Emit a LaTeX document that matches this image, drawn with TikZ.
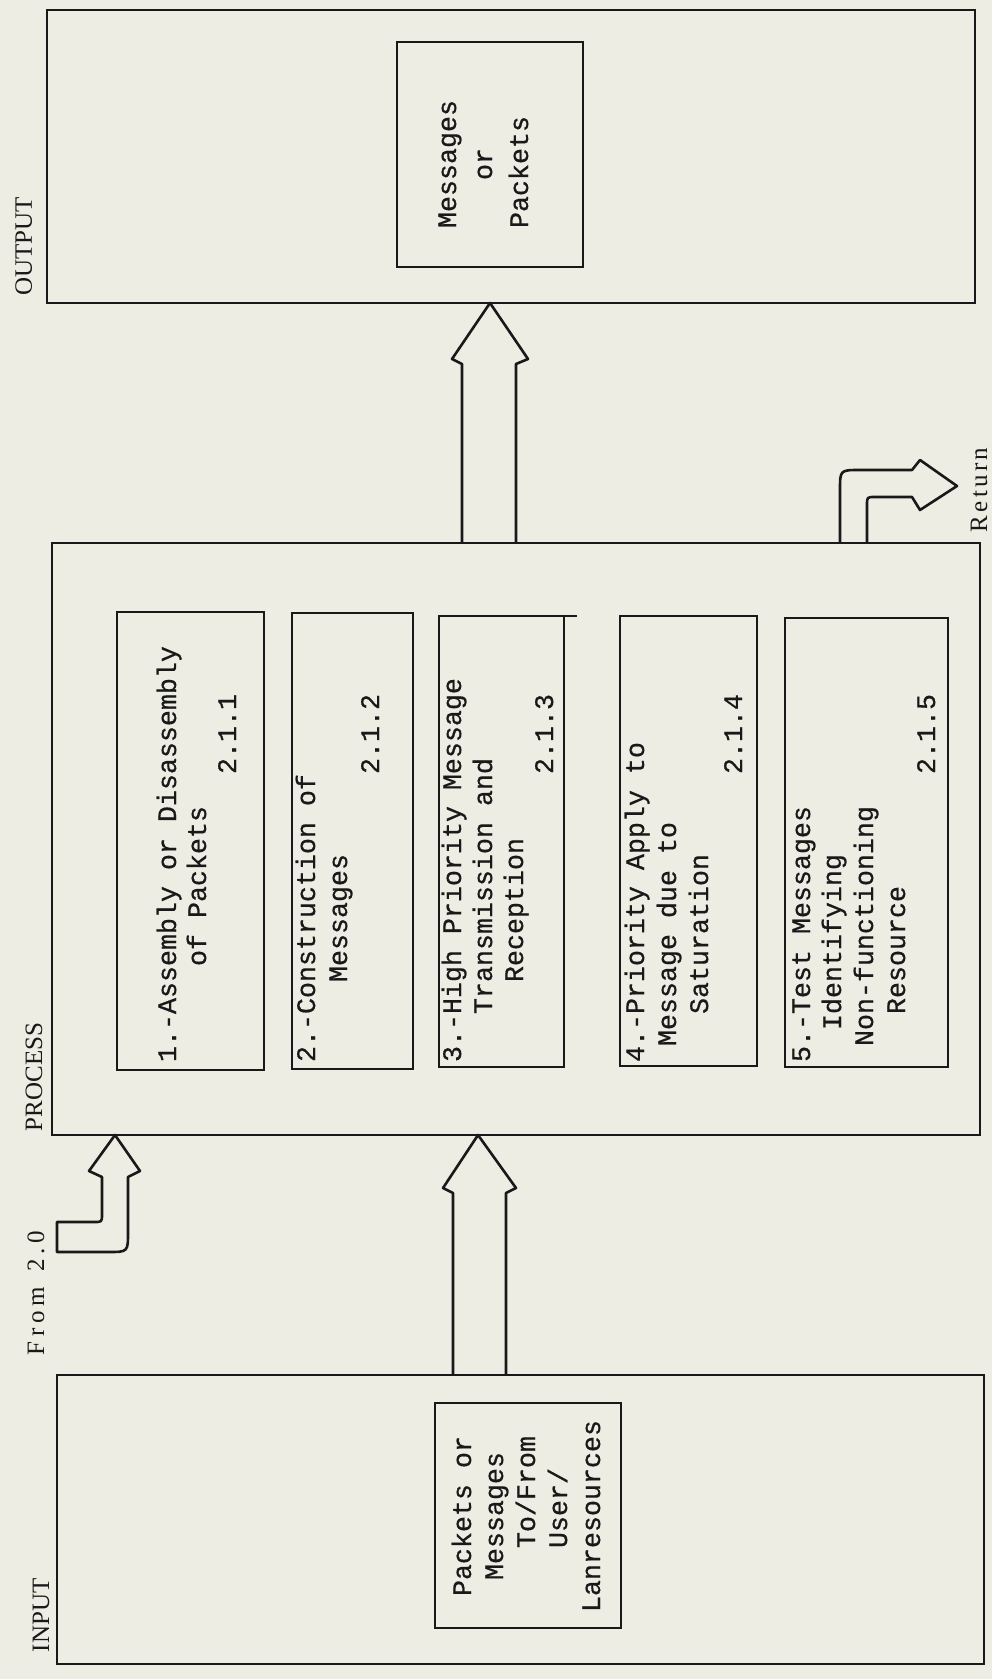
\documentclass[tikz,border=0pt]{standalone}
\usepackage{fontspec}
\setmainfont{Liberation Serif}
\newfontfamily\twfont[FakeBold=0.6]{Liberation Mono}
\usetikzlibrary{calc}
\definecolor{paper}{RGB}{237,237,228}
\definecolor{ink}{RGB}{25,25,25}
\newlength\cw \setlength\cw{8pt}
\newcommand\ind[1]{\hspace*{#1\cw}}
\newcommand\gp{\kern2.3pt}
\newcommand\gq{\kern1.6pt}
\begin{document}
\begin{tikzpicture}[x=0.5pt,y=-0.5pt,
  box/.style={draw=ink,line width=1.4pt,rectangle,inner sep=0pt,outer sep=0pt},
  tline/.style={rotate=90,anchor=base west,inner sep=0pt,outer sep=0pt,text=ink,font=\twfont\fontsize{13.33pt}{16pt}\selectfont},
  lab/.style={rotate=90,anchor=base west,inner sep=0pt,outer sep=0pt,text=ink,font=\fontsize{12.5pt}{15pt}\selectfont},
  blk/.style={draw=ink,line width=1.3pt,line join=round}]
\fill[paper] (0,0) rectangle (992,1679);
\useasboundingbox (0,0) rectangle (992,1679);

% main boxes
\node[box,minimum width=464pt,minimum height=146.5pt] (out) at (511,156.5) {};
\node[box,minimum width=93pt,minimum height=112.5pt] (msg) at (490,154.5) {};
\node[box,minimum width=464pt,minimum height=296pt] (proc) at (516,839) {};
\node[box,minimum width=463.5pt,minimum height=144.5pt] (inp) at (520.5,1519.5) {};
\node[box,minimum width=93pt,minimum height=112.5pt] (pk) at (528,1515.5) {};

% process sub-boxes
\node[box,minimum width=73.5pt,minimum height=229pt] (b1) at (190.5,841) {};
\node[box,minimum width=60.5pt,minimum height=228pt] (b2) at (352.5,841) {};
\node[box,minimum width=62.5pt,minimum height=225.5pt] (b3) at (501.5,841.5) {};
\node[box,minimum width=68.5pt,minimum height=225pt] (b4) at (688.5,841) {};
\node[box,minimum width=81.5pt,minimum height=224.5pt] (b5) at (866.5,842.5) {};
\draw[draw=ink,line width=1.4pt] (b3.north east) -- ++(13,0);

% labels
\node[lab] (lout) at (32,296) {OUTPUT};
\node[lab] (lproc) at (42,1131) {PROCESS};
\node[lab] (linp) at (49,1652) {INPUT};
\node[lab] (lfrom) at (44,1355) {F\gp r\gp o\gp m\gp{} \gp 2\gp .\gp 0};
\node[lab] (lret) at (987,532) {R\gq e\gq t\gq u\gq r\gq n};

% box texts
\node[tline] (t1a) at (176,1062) {1.-Assembly or Disassembly};
\node[tline] (t1b) at (206,1062) {\ind{6}of Packets};
\node[tline] (t1c) at (236,1062) {\ind{18}2.1.1};

\node[tline] (t2a) at (315,1062) {2.-Construction of};
\node[tline] (t2b) at (347,1062) {\ind{5}Messages};
\node[tline] (t2c) at (379,1062) {\ind{18}2.1.2};

\node[tline] (t3a) at (461,1062) {3.-High Priority Message};
\node[tline] (t3b) at (492,1062) {\ind{3}Transmission and};
\node[tline] (t3c) at (523,1062) {\ind{5}Reception};
\node[tline] (t3d) at (553,1062) {\ind{18}2.1.3};

\node[tline] (t4a) at (644,1062) {4.-Priority Apply to};
\node[tline] (t4b) at (676,1062) {\ind{1}Message due to};
\node[tline] (t4c) at (708,1062) {\ind{3}Saturation};
\node[tline] (t4d) at (742,1062) {\ind{18}2.1.4};

\node[tline] (t5a) at (810,1062) {5.-Test Messages};
\node[tline] (t5b) at (841,1062) {\ind{2}Identifying};
\node[tline] (t5c) at (873,1062) {\ind{1}Non-functioning};
\node[tline] (t5d) at (905,1062) {\ind{3}Resource};
\node[tline] (t5e) at (935,1062) {\ind{18}2.1.5};

\node[tline] (m1) at (456,228) {Messages};
\node[tline] (m2) at (492,228) {\ind{3}or};
\node[tline] (m3) at (528,228) {Packets};

\node[tline] (p1) at (471,1612) {\ind{1}Packets or};
\node[tline] (p2) at (503,1612) {\ind{2}Messages};
\node[tline] (p3) at (535,1612) {\ind{4}To/From};
\node[tline] (p4) at (567,1612) {\ind{4}User/};
\node[tline] (p5) at (600,1612) {Lanresources};

% block arrows
\draw[blk] (462,0 |- proc.north) -- (462,364) -- (452,359) -- (490,0 |- out.south)
  -- (528,359) -- (516,364) -- (516,0 |- proc.north);
\draw[blk] (453,0 |- inp.north) -- (453,1193) -- (443,1188) -- (478,0 |- proc.south)
  -- (516,1188) -- (506,1193) -- (506,0 |- inp.north);
\coordinate (fromend) at (57,1252);
\draw[blk] (fromend) -- (57,1222) -- (94,1222) .. controls (102,1222) .. (102,1214)
  -- (102,1177) -- (89,1171) -- (115,0 |- proc.south) -- (140,1171) -- (128,1177)
  -- (128,1232) .. controls (128,1252) .. (108,1252) -- cycle;
\coordinate (retend) at (957,486);
\draw[blk] (840,0 |- proc.north) -- (840,490) .. controls (840,470) .. (860,470)
  -- (912,470) -- (920,460) -- (retend) -- (920,510) -- (912,497) -- (875,497)
  .. controls (867,497) .. (867,505) -- (867,0 |- proc.north);
\end{tikzpicture}
\end{document}
